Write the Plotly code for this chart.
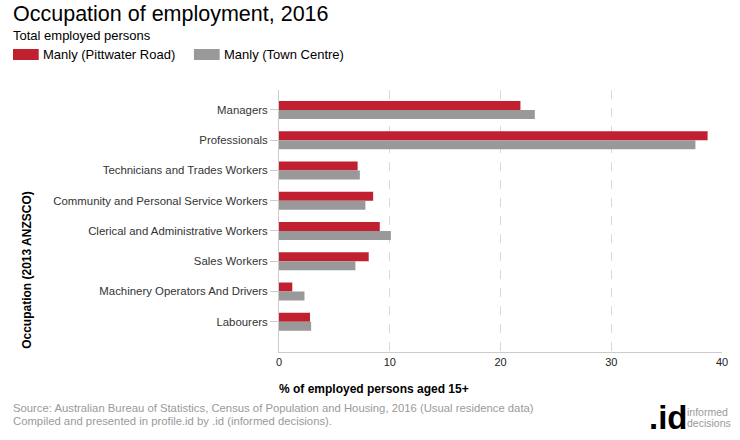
import plotly.graph_objects as go

categories = [
    "Managers",
    "Professionals",
    "Technicians and Trades Workers",
    "Community and Personal Service Workers",
    "Clerical and Administrative Workers",
    "Sales Workers",
    "Machinery Operators And Drivers",
    "Labourers",
]
pittwater_road = [21.8, 38.7, 7.1, 8.5, 9.1, 8.1, 1.2, 2.8]
town_centre = [23.1, 37.6, 7.3, 7.8, 10.1, 6.9, 2.3, 2.9]
series_names = ["Manly (Pittwater Road)", "Manly (Town Centre)"]
colors = ["#c0202f", "#999999"]
x_ticks = [0, 10, 20, 30, 40]

W, H = 740, 440
L, R, T, B = 279, 13, 90, 88
PW, PH = W - L - R, H - T - B
FONT = "Arial, 'Liberation Sans', sans-serif"


def px(x):
    return (x - L) / PW


def py(y):
    return (H - B - y) / PH


fig = go.Figure()
for name, vals, col in zip(series_names, [pittwater_road, town_centre], colors):
    fig.add_trace(go.Bar(
        y=categories, x=vals, name=name, orientation="h",
        marker=dict(color=col, line=dict(width=0)),
        showlegend=False,
    ))

fig.update_layout(
    width=W, height=H,
    margin=dict(l=L, r=R, t=T, b=B),
    paper_bgcolor="white", plot_bgcolor="white",
    barmode="group", bargap=0.406, bargroupgap=0,
    font=dict(family=FONT, size=11, color="#333333"),
    xaxis=dict(
        range=[0, 40], tickvals=x_ticks, showgrid=True,
        gridcolor="#d9d9d9", griddash="dash", gridwidth=1,
        zeroline=False, showline=True, linecolor="#cccccc", linewidth=1,
        ticks="", tickfont=dict(size=11, color="#222222"),
    ),
    yaxis=dict(
        type="category", range=[8.0, -0.66],
        showgrid=False, zeroline=False,
        showline=True, linecolor="#cccccc", linewidth=1,
        ticks="outside", ticklen=8, tickcolor="#cccccc",
        tickfont=dict(size=11.4, color="#333333"),
    ),
)

annotations = [
    dict(text="Occupation of employment, 2016", x=px(8), y=py(14),
         font=dict(size=21.5, color="#000000")),
    dict(text="Total employed persons", x=px(8), y=py(35),
         font=dict(size=13, color="#000000")),
    dict(text=series_names[0], x=px(38), y=py(54),
         font=dict(size=13, color="#000000")),
    dict(text=series_names[1], x=px(221), y=py(54),
         font=dict(size=13, color="#000000")),
    dict(text="<b>% of employed persons aged 15+</b>", x=px(277), y=py(389),
         font=dict(size=12, color="#000000")),
    dict(text="Source: Australian Bureau of Statistics, Census of Population and Housing, 2016 (Usual residence data)",
         x=px(8), y=py(408), font=dict(size=11.3, color="#9a9a9a")),
    dict(text="Compiled and presented in profile.id by .id (informed decisions).",
         x=px(8), y=py(421), font=dict(size=11.3, color="#9a9a9a")),
    dict(text="<b>.id</b>", x=px(651), y=py(417),
         font=dict(size=33, color="#000000")),
    dict(text="informed", x=px(690), y=py(412),
         font=dict(size=10.5, color="#9a9a9a")),
    dict(text="decisions", x=px(690), y=py(423),
         font=dict(size=10.5, color="#9a9a9a")),
]
for a in annotations:
    a.update(xref="paper", yref="paper", xanchor="left", yanchor="middle",
             showarrow=False)
fig.update_layout(annotations=annotations)

fig.add_annotation(
    text="<b>Occupation (2013 ANZSCO)</b>", textangle=-90,
    xref="paper", yref="paper", x=px(24), y=py(351),
    xanchor="center", yanchor="bottom", showarrow=False,
    font=dict(size=12, color="#000000"),
)

for x0, col in [(10, colors[0]), (193, colors[1])]:
    fig.add_shape(type="rect", xref="paper", yref="paper",
                  x0=px(x0), x1=px(x0 + 26), y0=py(49), y1=py(60),
                  fillcolor=col, line=dict(width=0))

fig.write_html("out.html", config={"displayModeBar": False},
               post_script="document.body.style.margin='0';document.body.style.padding='0';")
